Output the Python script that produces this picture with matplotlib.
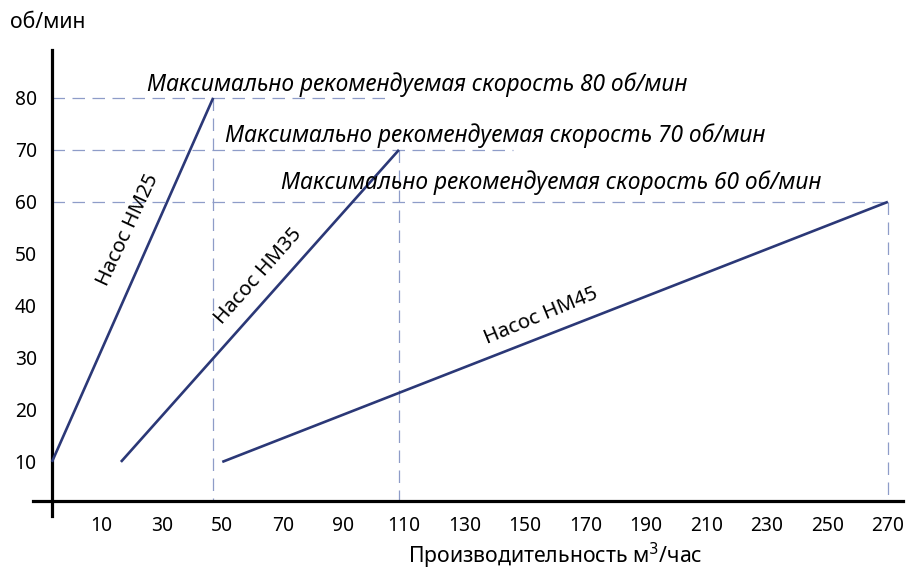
import matplotlib
matplotlib.use("Agg")
import matplotlib.pyplot as plt

plt.rcParams["font.family"] = ["Noto Sans", "DejaVu Sans"]

# pump lines: (flow m3/h, rpm) endpoints
pump_names = ["Насос НМ25", "Насос НМ35", "Насос НМ45"]
pump_x = [[-6.3, 47.0], [16.5, 108.4], [50.0, 270.0]]
pump_y = [[10, 80], [10, 70], [10, 60]]

# max recommended speeds and how far their guide lines reach
max_speed = [80, 70, 60]
max_flow = [47.0, 108.4, 270.0]
guide_end = [103.8, 146.0, 270.0]
max_labels = [f"Максимально рекомендуемая скорость {s} об/мин" for s in max_speed]

xticks = [10, 30, 50, 70, 90, 110, 130, 150, 170, 190, 210, 230, 250, 270]
yticks = [10, 20, 30, 40, 50, 60, 70, 80]

line_color = "#2b3877"
dash_color = "#8e9cc8"

W, H = 908, 571
fig = plt.figure(figsize=(W / 100, H / 100), dpi=100)
ax = fig.add_axes([33 / W, 1 - 516 / H, 870 / W, 466 / H])
ax.set_xlim(-12.56, 275)
ax.set_ylim(-0.4, 89.2)

x0, y0 = -6.3, 2.5  # where the axes cross

for sp in ["top", "right"]:
    ax.spines[sp].set_visible(False)
ax.spines["left"].set_position(("data", x0))
ax.spines["bottom"].set_position(("data", y0))
for sp in ["left", "bottom"]:
    ax.spines[sp].set_linewidth(2.3)
    ax.spines[sp].set_color("black")

ax.set_xticks(xticks)
ax.set_yticks(yticks)
ax.tick_params(axis="x", length=0, pad=11, labelsize=13.8)
ax.tick_params(axis="y", length=0, pad=11, labelsize=13.8)

# guide lines
for s, fx, ge in zip(max_speed, max_flow, guide_end):
    ax.plot([x0, ge], [s, s], color=dash_color, lw=0.9, dashes=(10, 6), zorder=1)
    ax.plot([fx, fx], [s, y0], color=dash_color, lw=0.9, dashes=(10, 6), zorder=1)

# pump lines
for xs, ys in zip(pump_x, pump_y):
    ax.plot(xs, ys, color=line_color, lw=1.9, zorder=3, solid_capstyle="butt")

# pump labels
name_pos = [(19.0, 54.6), (61.8, 45.6), (155.4, 38.1)]
name_rot = [65, 48.5, 22.5]
for name, (px, py), r in zip(pump_names, name_pos, name_rot):
    ax.text(px, py, name, rotation=r, ha="center", va="center",
            fontsize=14.7, rotation_mode="anchor")

# max speed labels
lab_pos = [(25.2, 81.3), (50.9, 71.5), (69.3, 62.5)]
for lab, (px, py) in zip(max_labels, lab_pos):
    ax.text(px, py, lab, ha="left", va="baseline", fontsize=16.4, style="italic")

fig.text(10 / W, 1 - 22 / H, "об/мин", ha="left", va="center", fontsize=15.3)
fig.text(555 / W, 1 - 556 / H, "Производительность м$^3$/час",
         ha="center", va="center", fontsize=15.3)

fig.savefig("out.png", dpi=100)
